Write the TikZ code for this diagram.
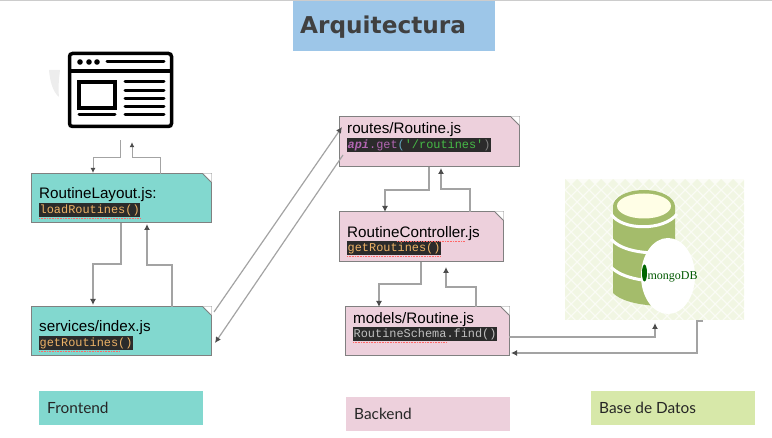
\documentclass[tikz,border=0pt]{standalone}
\usepackage{fontspec}
\setmainfont{Liberation Sans}
\setmonofont{Liberation Mono}
\newfontfamily\titlefont{DejaVu Sans}
\newfontfamily\legendfont{Lato}
\newfontfamily\mongofont{Liberation Serif}
\usetikzlibrary{arrows.meta}
\definecolor{teal1}{HTML}{82D8CF}
\definecolor{pink1}{HTML}{EDD0DC}
\definecolor{lime1}{HTML}{D7E8A9}
\definecolor{sky1}{HTML}{9DC6E8}
\definecolor{edge1}{HTML}{808080}
\definecolor{wire1}{HTML}{A3A3A3}
\definecolor{chip1}{HTML}{2B2B2B}
\definecolor{moss1}{HTML}{A4BC6B}
\definecolor{amber1}{HTML}{EDB266}
\definecolor{paper1}{HTML}{FBFCF6}
\definecolor{paper2}{HTML}{F1F6E3}
\tikzset{
  filebox/.style={rectangle,draw=edge1,line width=1pt,inner sep=0pt,outer sep=0pt},
  filename/.style={anchor=base west,inner sep=0pt,font=\fontsize{15.2}{15.2}\selectfont,text=black},
  codechip/.style={anchor=north west,inner xsep=0.5pt,inner ysep=1.5pt,fill=chip1,
    font=\ttfamily\fontsize{11.9}{11.9}\selectfont,text=#1},
  spell/.style={draw=red!60!white,line width=0.6pt,densely dotted},
  legendbox/.style={anchor=north west,minimum width=164pt,minimum height=34pt,inner sep=0pt,outer sep=0pt},
  legendtext/.style={anchor=west,inner sep=0pt,font=\legendfont\fontsize{15.4}{15.4}\selectfont,text=black!85},
  flow/.style={draw=wire1,line width=1.2pt,-{Latex[length=6pt,width=6pt,color=black!70]}},
  flowthin/.style={draw=wire1,line width=1pt,-{Latex[length=5pt,width=5pt,color=black!70]}},
}
\begin{document}
\begin{tikzpicture}[x=1pt,y=-1pt]
\useasboundingbox (0,0) rectangle (772,438);
\fill [black!20] (0,0) rectangle (772,1);
% title
\node [anchor=north west,fill=sky1,minimum width=202pt,minimum height=50pt,inner sep=0pt,outer sep=0pt] (titlebox) at (293,1) {};
\node [anchor=west,inner sep=0pt,font=\titlefont\bfseries\fontsize{23.2}{23.2}\selectfont,text=black!75] (titletext) at (300,27) {Arquitectura};
% browser icon
\fill [black!7] (49,70) .. controls (50,82) and (53,92) .. (59,97) .. controls (58,88) and (59,78) .. (60,70) -- cycle;
\node [draw=black,line width=3.5pt,rounded corners=3pt,minimum width=102pt,minimum height=73pt,inner sep=0pt,outer sep=1.7pt] (browser) at (120.5,90) {};
\draw [black,line width=3.5pt] (69.5,71) -- (171.5,71);
\foreach \x in {80,89,97}
  \fill [black] (\x,62) circle (2.8);
\draw [black,line width=3pt,line cap=round] (107,62) -- (164,62);
\draw [black,line width=3.5pt] (79,82) rectangle (115,108);
\foreach \y in {82,90.5,98.7,107,115}
  \draw [black,line width=3pt,line cap=round] (125,\y) -- (164,\y);
\draw [black,line width=3pt,line cap=round] (79,115) -- (115,115);
% frontend
\node [filebox,fill=teal1,minimum width=180pt,minimum height=49pt] (layout) at (121,198.5) {};
\node [filebox,fill=teal1,minimum width=180pt,minimum height=49pt] (services) at (121,331.5) {};
% backend
\node [filebox,fill=pink1,minimum width=180pt,minimum height=50pt] (routes) at (429,142) {};
\node [filebox,fill=pink1,minimum width=164pt,minimum height=50pt] (controller) at (421,237) {};
\node [filebox,fill=pink1,minimum width=164pt,minimum height=49pt] (models) at (427,331.5) {};
% snipped corners
\foreach \boxname in {layout,services,routes,controller,models} {
  \fill [white] ([xshift=-8pt,yshift=0.6pt]\boxname.north east) -- ([xshift=0.6pt,yshift=0.6pt]\boxname.north east) -- ([xshift=0.6pt,yshift=-8pt]\boxname.north east) -- cycle;
  \draw [edge1,line width=1pt] ([xshift=-8pt]\boxname.north east) -- ([yshift=-8pt]\boxname.north east);
}
% file labels
\node [filename] (layoutname) at (39,199) {RoutineLayout.js:};
\node [codechip=amber1] (layoutcode) at (39,203) {loadRoutines()};
\draw [spell] ([yshift=-1pt]layoutcode.south west) -- ([yshift=-1pt]layoutcode.south east);
\node [filename] (servicesname) at (39,332) {services/index.js};
\node [codechip=amber1] (servicescode) at (39,336) {getRoutines()};
\draw [spell] ([yshift=-1pt]servicescode.south west) -- ([xshift=-14pt,yshift=-1pt]servicescode.south east);
\node [filename] (routesname) at (347,134) {routes/Routine.js};
\node [codechip=white] (routescode) at (347,138) {\textcolor{violet!60!white}{\textbf{\textit{api}}.get}\textcolor{cyan!50!gray}{(}\textcolor{green!45!gray}{'/routines'}\textcolor{gray}{)}};
\node [filename] (controllername) at (347,238) {RoutineController.js};
\node [codechip=amber1] (controllercode) at (347,241) {getRoutines()};
\draw [spell] ([yshift=-1pt]controllercode.south west) -- ([yshift=-1pt]controllercode.south east);
\draw [spell] (397,241) -- (465,241);
\node [filename] (modelsname) at (353,324) {models/Routine.js};
\node [codechip=black!25] (modelscode) at (353,327) {RoutineSchema.find()};
\draw [spell] ([yshift=-1pt]modelscode.south west) -- ([xshift=-50pt,yshift=-1pt]modelscode.south east);
% database picture
\fill [paper1] (565,179) rectangle (744,320);
\begin{scope}
\clip (565,179) rectangle (744,320);
\foreach \i in {0,...,15}
  \foreach \j in {0,...,12} {
    \fill [paper2] (565+\i*12,179+\j*12) -- ++(5,5) -- ++(-5,5) -- ++(-5,-5) -- cycle;
    \fill [paper2] (571+\i*12,185+\j*12) -- ++(5,5) -- ++(-5,5) -- ++(-5,-5) -- cycle;
  }
\end{scope}
\coordinate (dbin) at (655,323);
\coordinate (dbout) at (703,321);
\fill [moss1] (613,207) -- (613,293) .. controls (620,300) and (635,305) .. (660,306) -- (675,306) -- (675,207) -- cycle;
\draw [white,line width=3pt] (611,214) .. controls (622,231) and (664,231) .. (677,214);
\fill [moss1] (644,206.5) ellipse [x radius=31, y radius=16.5];
\fill [white!90!yellow] (644,206) ellipse [x radius=27, y radius=12.5];
\draw [white,line width=3pt] (611,239) .. controls (622,252) and (650,255) .. (677,252);
\draw [white,line width=3pt] (611,267) .. controls (622,279) and (650,283) .. (677,281);
\fill [white] (668,276) ellipse [x radius=27, y radius=38];
\fill [green!40!black] (644.5,273) ellipse [x radius=2.5, y radius=8.5];
\node [inner sep=0pt,font=\mongofont\fontsize{12}{12}\selectfont,text=green!35!black] (mongolabel) at (672.5,277) {mongoDB};
% flows
\draw [flowthin] ([yshift=-12pt]browser.south) -- ++(0,17) -| ([xshift=-28pt,yshift=1pt]layout.north);
\draw [flowthin] ([xshift=39pt]layout.north) -- ++(0,-16) -| ([xshift=11.5pt,yshift=-14pt]browser.south);
\draw [flow] (layout.south) -- ++(0,41) -| ([xshift=-28pt,yshift=2pt]services.north);
\draw [flow] ([xshift=51pt]services.north) -- ++(0,-42) -| ([xshift=26pt,yshift=-1pt]layout.south);
\draw [flow] ([xshift=3pt,yshift=19.5pt]services.east) -- ([xshift=3pt,yshift=15pt]routes.west);
\draw [flow] ([xshift=4pt,yshift=-13pt]routes.west) -- ([xshift=4pt,yshift=-11.5pt]services.east);
\draw [flow] (routes.south) -- ++(0,23) -| ([xshift=-36pt]controller.north);
\draw [flow] ([xshift=49pt]controller.north) -- ++(0,-23) -| ([xshift=12pt,yshift=-1pt]routes.south);
\draw [flow] (controller.south) -- ++(0,22) -| ([xshift=-48pt]models.north);
\draw [flow] ([xshift=49pt]models.north) -- ++(0,-20) -| ([xshift=25pt,yshift=-5pt]controller.south);
\draw [flow] ([yshift=-5.5pt]models.east) -- ++(146,0) -- (dbin);
\draw [flow] (dbout) -- ++(-6,0) -- ++(0,32) -- ([xshift=2pt,yshift=-21.5pt]models.east);
% legend
\node [legendbox,fill=teal1] (frontendbox) at (39,391) {};
\node [legendtext] (frontendtext) at (47,408) {Frontend};
\node [legendbox,fill=pink1] (backendbox) at (346,397) {};
\node [legendtext] (backendtext) at (354,414) {Backend};
\node [legendbox,fill=lime1] (databox) at (591,391) {};
\node [legendtext] (datatext) at (599,408) {Base de Datos};
\end{tikzpicture}
\end{document}
